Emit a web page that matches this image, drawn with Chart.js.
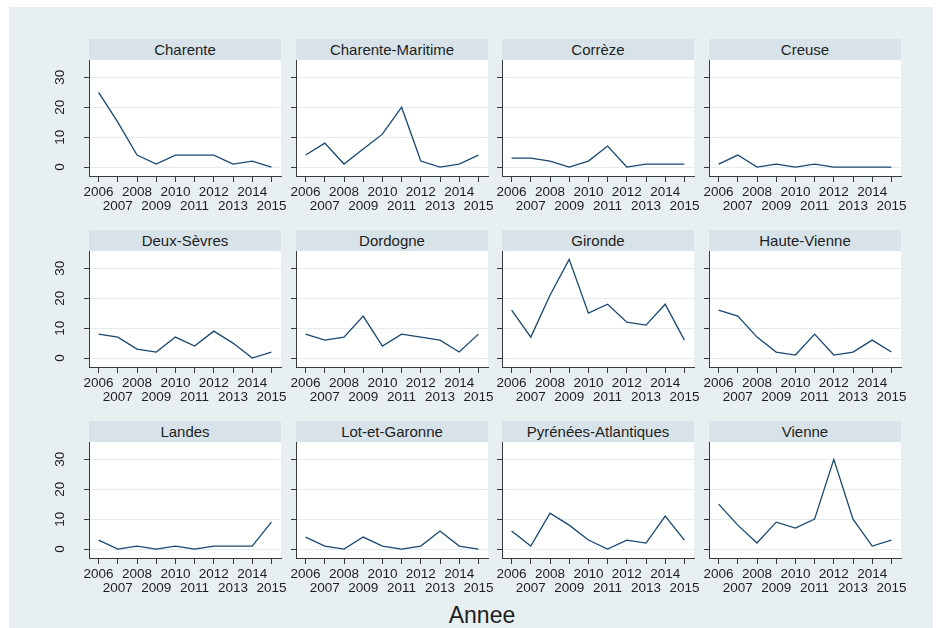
<!DOCTYPE html>
<html>
<head>
<meta charset="utf-8">
<script src="https://cdn.jsdelivr.net/npm/chart.js@4/dist/chart.umd.min.js"></script>
<style>
  html, body { margin: 0; padding: 0; background: #ffffff; }
  body { position: relative; width: 939px; height: 628px; overflow: hidden; }
  #frame { position: absolute; left: 9px; top: 7px; width: 924px; height: 621px; background: #e8eff1; }
  .strip {
    position: absolute; height: 21px; background: #d8e3e9;
    font: 15px "Liberation Sans", Arial, sans-serif; color: #1e1e1e;
    text-align: center; line-height: 21px; white-space: nowrap;
  }
  canvas { position: absolute; }
  #xtitle {
    position: absolute; left: 382px; width: 200px; top: 603px; text-align: center;
    font: 23px "Liberation Sans", Arial, sans-serif; color: #1e1e1e; line-height: 24px;
  }
</style>
</head>
<body>
<div id="frame"></div>
<div id="xtitle">Annee</div>
<script>
// Years on the x axis and the y tick values shared by all panels
const years = [2006, 2007, 2008, 2009, 2010, 2011, 2012, 2013, 2014, 2015];
const yTicks = [0, 10, 20, 30];

// Yearly counts per département
const charente            = [25, 15, 4, 1, 4, 4, 4, 1, 2, 0];
const charenteMaritime    = [4, 8, 1, 6, 11, 20, 2, 0, 1, 4];
const correze             = [3, 3, 2, 0, 2, 7, 0, 1, 1, 1];
const creuse              = [1, 4, 0, 1, 0, 1, 0, 0, 0, 0];
const deuxSevres          = [8, 7, 3, 2, 7, 4, 9, 5, 0, 2];
const dordogne            = [8, 6, 7, 14, 4, 8, 7, 6, 2, 8];
const gironde             = [16, 7, 21, 33, 15, 18, 12, 11, 18, 6];
const hauteVienne         = [16, 14, 7, 2, 1, 8, 1, 2, 6, 2];
const landes              = [3, 0, 1, 0, 1, 0, 1, 1, 1, 9];
const lotEtGaronne        = [4, 1, 0, 4, 1, 0, 1, 6, 1, 0];
const pyreneesAtlantiques = [6, 1, 12, 8, 3, 0, 3, 2, 11, 3];
const vienne              = [15, 8, 2, 9, 7, 10, 30, 10, 1, 3];

const panelNames = ['Charente', 'Charente-Maritime', 'Corrèze', 'Creuse',
                    'Deux-Sèvres', 'Dordogne', 'Gironde', 'Haute-Vienne',
                    'Landes', 'Lot-et-Garonne', 'Pyrénées-Atlantiques', 'Vienne'];
const panelValues = [charente, charenteMaritime, correze, creuse,
                     deuxSevres, dordogne, gironde, hauteVienne,
                     landes, lotEtGaronne, pyreneesAtlantiques, vienne];

const FONT = '"Liberation Sans", Arial, sans-serif';
const TEXT = '#1e1e1e';
const AXIS = '#3a3a3a';

// Grid geometry of the small multiples
const COL_X0 = 89, COL_STEP = 206.67, PANEL_W = 192;
const ROW_Y0 = 39, ROW_STEP = 191, STRIP_H = 21, PLOT_H = 116;
const LEFT_GUTTER = 40, RIGHT_GUTTER = 14, BOTTOM_GUTTER = 44;

// Paints the plot region white before the grid is drawn
const plotBackground = {
  id: 'plotBackground',
  beforeDraw(chart) {
    const a = chart.chartArea, ctx = chart.ctx;
    ctx.save();
    ctx.fillStyle = '#ffffff';
    ctx.fillRect(a.left, a.top, a.right - a.left, a.bottom - a.top);
    ctx.restore();
  }
};

// Vertical (rotated) y tick labels, placed from the y scale
const rotatedYLabels = {
  id: 'rotatedYLabels',
  afterDraw(chart) {
    const s = chart.scales.y, ctx = chart.ctx;
    ctx.save();
    ctx.fillStyle = TEXT;
    ctx.font = '13.5px ' + FONT;
    ctx.textAlign = 'center';
    ctx.textBaseline = 'middle';
    yTicks.forEach(v => {
      const y = s.getPixelForValue(v);
      ctx.save();
      ctx.translate(chart.chartArea.left - 28.5, y);
      ctx.rotate(-Math.PI / 2);
      ctx.fillText(String(v), 0, 0);
      ctx.restore();
    });
    ctx.restore();
  }
};

panelNames.forEach((name, p) => {
  const c = p % 4, r = Math.floor(p / 4);
  const left = Math.round(COL_X0 + c * COL_STEP);
  const top = ROW_Y0 + r * ROW_STEP;

  const strip = document.createElement('div');
  strip.className = 'strip';
  strip.style.left = left + 'px';
  strip.style.top = top + 'px';
  strip.style.width = PANEL_W + 'px';
  strip.textContent = name;
  document.body.appendChild(strip);

  const cv = document.createElement('canvas');
  const w = LEFT_GUTTER + PANEL_W + RIGHT_GUTTER;
  const h = PLOT_H + BOTTOM_GUTTER;
  cv.width = w; cv.height = h;
  cv.style.width = w + 'px'; cv.style.height = h + 'px';
  cv.style.left = (left - LEFT_GUTTER) + 'px';
  cv.style.top = (top + STRIP_H) + 'px';
  document.body.appendChild(cv);

  const plugins = [plotBackground];
  if (c === 0) plugins.push(rotatedYLabels);

  new Chart(cv, {
    type: 'line',
    data: {
      datasets: [{
        data: panelValues[p].map((v, i) => ({ x: years[i], y: v })),
        borderColor: '#1a476f',
        borderWidth: 1.3,
        pointRadius: 0,
        tension: 0,
        fill: false
      }]
    },
    options: {
      responsive: false,
      animation: false,
      devicePixelRatio: 1,
      layout: { padding: { left: 0, right: RIGHT_GUTTER, top: 0, bottom: 0 } },
      plugins: { legend: { display: false }, tooltip: { enabled: false } },
      scales: {
        x: {
          type: 'linear',
          min: 2005.5, max: 2015.5,
          afterBuildTicks: s => { s.ticks = years.map(v => ({ value: v })); },
          afterFit: s => { s.height = BOTTOM_GUTTER; },
          ticks: {
            autoSkip: false, maxRotation: 0, minRotation: 0, padding: 3.5,
            color: TEXT,
            font: { family: FONT, size: 13.5, lineHeight: 1.04 },
            callback: v => (v % 2 === 0) ? [String(v), ''] : ['', String(v)]
          },
          grid: { drawOnChartArea: false, drawTicks: true, tickLength: 6, tickColor: AXIS },
          border: { display: true, color: AXIS, width: 1 }
        },
        y: {
          min: -3, max: 35.8,
          afterBuildTicks: s => { s.ticks = yTicks.map(v => ({ value: v })); },
          afterFit: s => { s.width = LEFT_GUTTER; },
          ticks: { display: false },
          grid: { color: '#e4ecee', lineWidth: 1, drawTicks: true, tickLength: 5, tickColor: AXIS },
          border: { display: true, color: AXIS, width: 1 }
        }
      }
    },
    plugins: plugins
  });
});
</script>
</body>
</html>
